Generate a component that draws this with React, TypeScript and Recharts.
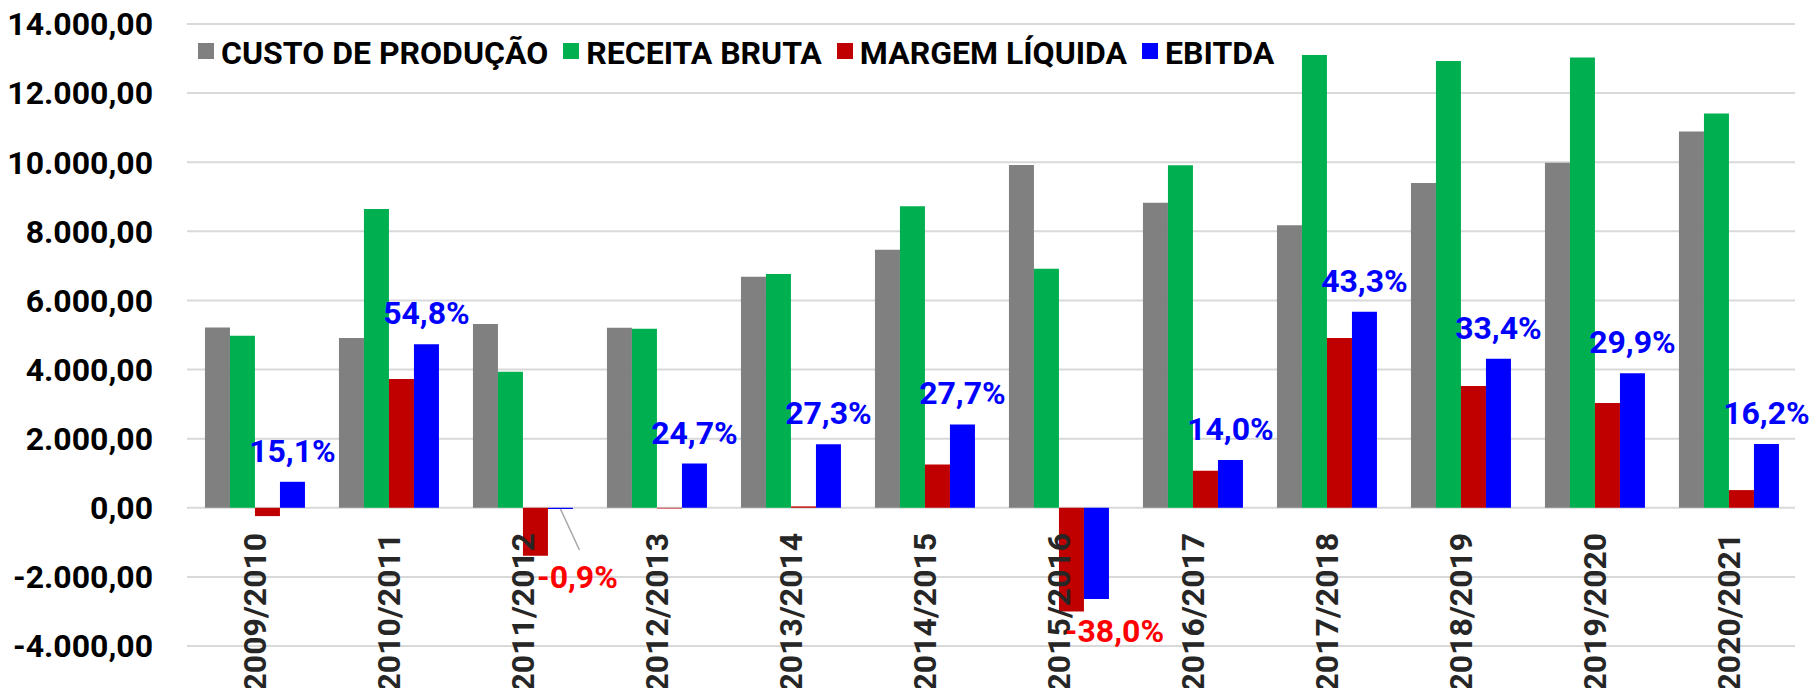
import React from 'react';
import { BarChart, Bar, XAxis, YAxis, CartesianGrid, Legend, LabelList } from 'recharts';

const categories = ['2009/2010', '2010/2011', '2011/2012', '2012/2013', '2013/2014', '2014/2015', '2015/2016', '2016/2017', '2017/2018', '2018/2019', '2019/2020', '2020/2021'];
const custoProducao = [5220, 4913, 5318, 5211, 6688, 7470, 9922, 8830, 8174, 9400, 9988, 10886];
const receitaBruta = [4980, 8648, 3937, 5182, 6765, 8723, 6920, 9910, 13106, 12932, 13028, 11407];
const margemLiquida = [-241, 3726, -1390, -20, 40, 1254, -3002, 1071, 4913, 3523, 3031, 512];
const ebitda = [752, 4735, -35, 1278, 1840, 2410, -2640, 1384, 5670, 4316, 3892, 1846];
const ebitdaMargem = [15.1, 54.8, -0.9, 24.7, 27.3, 27.7, -38.0, 14.0, 43.3, 33.4, 29.9, 16.2];
const yTicks = [-4000, -2000, 0, 2000, 4000, 6000, 8000, 10000, 12000, 14000];
const seriesNames = ['CUSTO DE PRODUÇÃO', 'RECEITA BRUTA', 'MARGEM LÍQUIDA', 'EBITDA'];
const seriesKeys = ['custo', 'receita', 'margem', 'ebitda'];
const seriesColors = ['#808080', '#00B050', '#C00000', '#0000FF'];

// label placement adjustments (style only)
const pctLabelAdjust: Record<string, { dx?: number; dy?: number; leader?: number[] }> = {
  '2011/2012': { dx: 17, dy: 79, leader: [0, 0, 19, 41] },
  '2015/2016': { dx: 18, dy: 43 },
};

const data = categories.map((cat, i) => ({
  cat,
  custo: custoProducao[i],
  receita: receitaBruta[i],
  margem: margemLiquida[i],
  ebitda: ebitda[i],
}));

const FONT = 'Roboto, "DejaVu Sans", sans-serif';

function fmtBR(v: number): string {
  const neg = v < 0;
  const s = Math.abs(v).toFixed(2);
  const [intPart, dec] = s.split('.');
  const withSep = intPart.replace(/\B(?=(\d{3})+(?!\d))/g, '.');
  return (neg ? '-' : '') + withSep + ',' + dec;
}

function fmtPct(v: number): string {
  return v.toFixed(1).replace('.', ',') + '%';
}

function getBox(props: any) {
  const vb = props.viewBox && props.viewBox.width !== undefined ? props.viewBox : props;
  const x = Number(vb.x);
  const y = Number(vb.y);
  const w = Number(vb.width);
  const h = Number(vb.height);
  return { x, w, top: Math.min(y, y + h), bottom: Math.max(y, y + h) };
}

const PctLabel = (props: any) => {
  const cat = props.value;
  const i = categories.indexOf(cat);
  if (i < 0) return null;
  const b = getBox(props);
  const adj = pctLabelAdjust[cat] || {};
  const cx = b.x + b.w / 2;
  const text = fmtPct(ebitdaMargem[i]);
  if (ebitda[i] >= 0) {
    return (
      <text x={cx + (adj.dx || 0)} y={b.top - 20} textAnchor="middle" fill="#0000FF" fontFamily={FONT} fontWeight={700} fontSize={32}>
        {text}
      </text>
    );
  }
  const ld = adj.leader;
  return (
    <g>
      {ld && (
        <line x1={cx + ld[0]} y1={b.bottom + ld[1]} x2={cx + ld[2]} y2={b.bottom + ld[3]} stroke="#A6A6A6" strokeWidth={1.5} />
      )}
      <text x={cx + (adj.dx || 0)} y={b.bottom + (adj.dy ?? 43)} textAnchor="middle" fill="#FF0000" fontFamily={FONT} fontWeight={700} fontSize={32}>
        {text}
      </text>
    </g>
  );
};

const CategoryLabel = (props: any) => {
  const cat = props.value;
  const i = categories.indexOf(cat);
  if (i < 0) return null;
  const b = getBox(props);
  const zero = ebitda[i] >= 0 ? b.bottom : b.top;
  // group center: blue bar is the 4th of 4 adjacent bars
  const cx = b.x + b.w - 2 * b.w;
  const y0 = zero + 25;
  return (
    <text
      x={cx}
      y={y0}
      dy="0.36em"
      textAnchor="end"
      transform={`rotate(-90, ${cx}, ${y0})`}
      fill="#262626"
      fontFamily={FONT}
      fontWeight={700}
      fontSize={32}
    >
      {cat}
    </text>
  );
};

const LegendContent = () => (
  <div style={{ display: 'flex', alignItems: 'center', fontFamily: FONT, fontWeight: 700, fontSize: 32, color: '#000', whiteSpace: 'nowrap', lineHeight: '32px' }}>
    {seriesNames.map((n, i) => (
      <div key={n} style={{ display: 'flex', alignItems: 'center', marginRight: 15 }}>
        <span style={{ width: 16, height: 16, background: seriesColors[i], marginRight: 7, display: 'inline-block', position: 'relative', top: -2 }} />
        <span>{n}</span>
      </div>
    ))}
  </div>
);

export default function App() {
  return (
    <div style={{ position: 'absolute', left: 0, top: 0, width: 1810, height: 688, background: '#fff' }}>
      <BarChart
        width={1810}
        height={688}
        data={data}
        margin={{ top: 24, right: 15, bottom: 42, left: 0 }}
        barCategoryGap="13.4%"
        barGap={0}
      >
        <CartesianGrid horizontal vertical={false} stroke="#D9D9D9" strokeWidth={2} />
        <XAxis dataKey="cat" hide />
        <YAxis
          domain={[-4000, 14000]}
          ticks={yTicks}
          interval={0}
          width={187}
          axisLine={false}
          tickLine={false}
          tickSize={0}
          tickMargin={34}
          tickFormatter={fmtBR}
          tick={{ fill: '#000', fontFamily: FONT, fontWeight: 700, fontSize: 32 }}
        />
        <Legend
          layout="horizontal"
          verticalAlign="middle"
          align="center"
          content={<LegendContent />}
          wrapperStyle={{ left: 198, top: 37, width: 'auto', height: 'auto' }}
        />
        {seriesKeys.map((k, i) => (
          <Bar key={k} dataKey={k} name={seriesNames[i]} fill={seriesColors[i]} isAnimationActive={false}>
            {k === 'ebitda' && <LabelList dataKey="cat" content={<CategoryLabel />} />}
            {k === 'ebitda' && <LabelList dataKey="cat" content={<PctLabel />} />}
          </Bar>
        ))}
      </BarChart>
    </div>
  );
}
